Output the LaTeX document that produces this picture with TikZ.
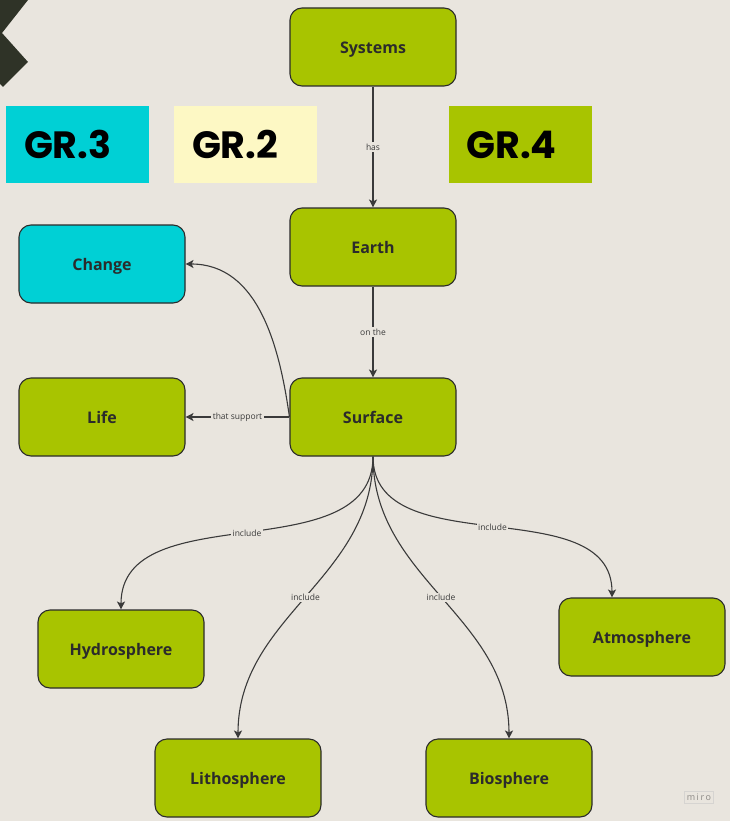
\documentclass[tikz,border=0pt]{standalone}
\usepackage{fontspec}
\setmainfont{Open Sans}
\newfontfamily\grfont{Poppins}
\usepackage{xcolor}
\usetikzlibrary{arrows.meta,calc}
\definecolor{board}{RGB}{233,229,222}
\definecolor{leaf}{RGB}{168,196,0}
\definecolor{aqua}{RGB}{0,208,213}
\definecolor{cream}{RGB}{253,248,196}
\definecolor{ink}{RGB}{43,43,43}
\definecolor{wire}{RGB}{58,58,58}
\definecolor{corner}{RGB}{47,51,39}
\tikzset{
	concept/.style={
			draw=ink, line width=1.1pt, rounded corners=12pt,
			minimum width=166pt, minimum height=78pt,
			text height=15pt, text depth=2pt,
			font=\fontsize{16}{19}\selectfont\bfseries, text=ink
		},
	grtag/.style={
			minimum width=143pt, minimum height=77pt, inner sep=0pt,
			text width=143pt, align=left, inner xsep=0pt,
			font=\grfont\fontsize{38}{40}\selectfont\bfseries, text=black
		},
	link/.style={
			draw=wire, line width=1.1pt,
			-{Stealth[length=8pt,width=8pt,inset=2pt]}
		},
	tag/.style={
			fill=board, inner sep=1.5pt, text=wire,
			font=\fontsize{8.5}{10}\selectfont
		}
}

\begin{document}
\begin{tikzpicture}[x=1pt, y=-1pt]
			\useasboundingbox (0,0) rectangle (730,821);
			\fill[board] (0,0) rectangle (730,821);
			\fill[corner] (0,0) -- (28,0) -- (2,33) -- (28,62) -- (3,87) -- (0,84) -- cycle;

			\node[grtag, fill=aqua] (gr3) at (77.5,144.5) {\hspace*{18pt}GR.3};
			\node[grtag, fill=cream] (gr2) at (245.5,144.5) {\hspace*{18pt}GR.2};
			\node[grtag, fill=leaf] (gr4) at (520,144.5) {\hspace*{18pt}GR.4};

			\node[concept, fill=leaf] (systems) at (373,47) {Systems};
			\node[concept, fill=leaf] (earth) at (373,247) {Earth};
			\node[concept, fill=aqua] (change) at (102,264) {Change};
			\node[concept, fill=leaf] (life) at (102,417) {Life};
			\node[concept, fill=leaf] (surface) at (373,417) {Surface};
			\node[concept, fill=leaf] (hydro) at (121,649) {Hydrosphere};
			\node[concept, fill=leaf] (atmo) at (642,637) {Atmosphere};
			\node[concept, fill=leaf] (litho) at (238,778) {Lithosphere};
			\node[concept, fill=leaf] (bio) at (509,778) {Biosphere};

			\draw[link] (systems) -- node[tag] {has} (earth);
			\draw[link] (earth) -- node[tag] {on the} (surface);
			\draw[link] (surface) -- node[tag] {that support} (life);
			\draw[link] (surface.west) to[out=98, in=0] (change.east);
			\draw[link] (surface.south) to[out=-90, in=90] node[tag] {include} (hydro.north);
			\draw[link] (surface.south) to[out=-90, in=90] node[tag] {include} ($(atmo.north)+(-30,0)$);
			\draw[link] (surface.south) to[out=-90, in=90] node[tag] {include} (litho.north);
			\draw[link] (surface.south) to[out=-90, in=90] node[tag] {include} (bio.north);

			\node[draw=board!80!black!60, text=board!60!black, inner sep=2.5pt,
				font=\fontsize{9}{10}\selectfont] (miro) at (699,797) {m\,i\,r\,o};
		\end{tikzpicture}
\end{document}
